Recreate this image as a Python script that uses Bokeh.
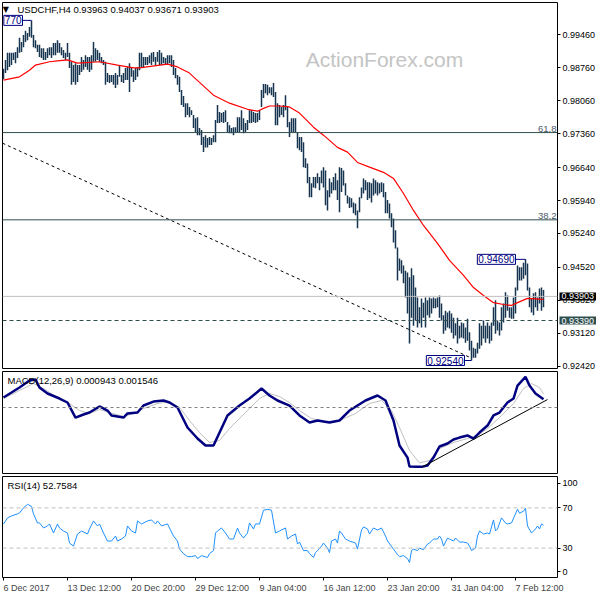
from bokeh.plotting import figure
from bokeh.layouts import column
from bokeh.models import (Range1d, FixedTicker, Span, Label, ColumnDataSource,
                          PrintfTickFormatter)
from bokeh.core.properties import value
from bokeh.embed import file_html
from bokeh.resources import INLINE

# ---------------- data ----------------
high = [0.9874,0.9893,0.9908,0.9908,0.9908,0.9908,0.9910,0.9920,0.9940,0.9931,
        0.9946,0.9955,0.9950,0.9963,0.9977,0.9946,0.9935,0.9925,0.9925,0.9918,
        0.9918,0.9910,0.9918,0.9920,0.9920,0.9929,0.9929,0.9935,0.9929,0.9920,
        0.9914,0.9908,0.9929,0.9908,0.9889,0.9882,0.9886,0.9882,0.9882,0.9899,
        0.9893,0.9903,0.9899,0.9899,0.9903,0.9931,0.9918,0.9914,0.9908,0.9899,
        0.9893,0.9889,0.9865,0.9861,0.9861,0.9861,0.9865,0.9861,0.9882,0.9861,
        0.9865,0.9876,0.9878,0.9886,0.9876,0.9871,0.9876,0.9878,0.9908,0.9908,
        0.9899,0.9899,0.9899,0.9903,0.9908,0.9910,0.9899,0.9910,0.9914,0.9908,
        0.9899,0.9897,0.9903,0.9903,0.9903,0.9893,0.9876,0.9861,0.9857,0.9829,
        0.9816,0.9801,0.9801,0.9793,0.9786,0.9776,0.9769,0.9771,0.9748,0.9744,
        0.9729,0.9733,0.9727,0.9729,0.9727,0.9733,0.9765,0.9797,0.9782,0.9780,
        0.9782,0.9786,0.9761,0.9754,0.9748,0.9750,0.9750,0.9771,0.9771,0.9786,
        0.9769,0.9759,0.9765,0.9786,0.9786,0.9782,0.9780,0.9780,0.9786,0.9829,
        0.9842,0.9842,0.9840,0.9835,0.9835,0.9844,0.9825,0.9801,0.9797,0.9793,
        0.9797,0.9818,0.9793,0.9761,0.9769,0.9769,0.9769,0.9739,0.9729,0.9729,
        0.9718,0.9684,0.9673,0.9644,0.9631,0.9644,0.9644,0.9652,0.9644,0.9658,
        0.9665,0.9658,0.9616,0.9641,0.9633,0.9644,0.9652,0.9637,0.9665,0.9663,
        0.9658,0.9631,0.9605,0.9601,0.9599,0.9590,0.9588,0.9573,0.9601,0.9622,
        0.9641,0.9637,0.9633,0.9633,0.9631,0.9641,0.9637,0.9633,0.9631,0.9633,
        0.9631,0.9612,0.9595,0.9588,0.9567,0.9556,0.9531,0.9494,0.9471,0.9467,
        0.9456,0.9445,0.9441,0.9431,0.9450,0.9435,0.9409,0.9388,0.9367,0.9386,
        0.9377,0.9388,0.9382,0.9388,0.9386,0.9388,0.9386,0.9388,0.9392,0.9375,
        0.9350,0.9360,0.9356,0.9360,0.9354,0.9345,0.9333,0.9345,0.9328,0.9335,
        0.9333,0.9324,0.9343,0.9314,0.9296,0.9281,0.9279,0.9292,0.9333,0.9328,
        0.9339,0.9328,0.9335,0.9328,0.9335,0.9367,0.9382,0.9339,0.9335,0.9367,
        0.9375,0.9399,0.9392,0.9367,0.9367,0.9388,0.9409,0.9456,0.9452,0.9452,
        0.9462,0.9469,0.9460,0.9409,0.9386,0.9397,0.9399,0.9388,0.9407,0.9409,
        0.94037]
low = [0.9852,0.9865,0.9871,0.9878,0.9882,0.9893,0.9886,0.9897,0.9908,0.9910,
       0.9920,0.9931,0.9935,0.9942,0.9940,0.9920,0.9918,0.9910,0.9899,0.9897,
       0.9893,0.9893,0.9897,0.9903,0.9897,0.9903,0.9903,0.9908,0.9908,0.9903,
       0.9897,0.9893,0.9899,0.9876,0.9840,0.9846,0.9840,0.9846,0.9861,0.9867,
       0.9872,0.9878,0.9872,0.9867,0.9872,0.9889,0.9889,0.9893,0.9889,0.9886,
       0.9882,0.9840,0.9846,0.9844,0.9846,0.9840,0.9833,0.9840,0.9857,0.9846,
       0.9844,0.9850,0.9850,0.9825,0.9857,0.9846,0.9850,0.9857,0.9871,0.9876,
       0.9878,0.9882,0.9882,0.9886,0.9882,0.9889,0.9882,0.9889,0.9882,0.9882,
       0.9886,0.9882,0.9882,0.9886,0.9878,0.9861,0.9854,0.9840,0.9825,0.9797,
       0.9793,0.9771,0.9776,0.9771,0.9776,0.9748,0.9739,0.9733,0.9733,0.9712,
       0.9697,0.9707,0.9707,0.9712,0.9712,0.9718,0.9718,0.9759,0.9759,0.9761,
       0.9759,0.9761,0.9739,0.9737,0.9737,0.9733,0.9739,0.9739,0.9739,0.9744,
       0.9737,0.9739,0.9744,0.9759,0.9759,0.9761,0.9759,0.9761,0.9765,0.9793,
       0.9812,0.9822,0.9818,0.9822,0.9818,0.9814,0.9754,0.9754,0.9771,0.9776,
       0.9771,0.9786,0.9750,0.9729,0.9739,0.9739,0.9739,0.9705,0.9701,0.9697,
       0.9665,0.9663,0.9631,0.9601,0.9601,0.9622,0.9620,0.9631,0.9616,0.9631,
       0.9622,0.9584,0.9573,0.9601,0.9609,0.9616,0.9616,0.9595,0.9569,0.9612,
       0.9626,0.9605,0.9588,0.9578,0.9580,0.9567,0.9563,0.9535,0.9569,0.9599,
       0.9609,0.9616,0.9595,0.9599,0.9590,0.9605,0.9609,0.9605,0.9609,0.9612,
       0.9601,0.9567,0.9567,0.9556,0.9537,0.9505,0.9492,0.9424,0.9445,0.9439,
       0.9418,0.9388,0.9354,0.9290,0.9345,0.9328,0.9339,0.9324,0.9333,0.9324,
       0.9345,0.9324,0.9350,0.9345,0.9354,0.9365,0.9365,0.9367,0.9345,0.9339,
       0.9311,0.9318,0.9324,0.9322,0.9313,0.9301,0.9307,0.9290,0.9301,0.9303,
       0.9301,0.9292,0.9296,0.9275,0.9254,0.9260,0.9260,0.9269,0.9279,0.9286,
       0.9301,0.9292,0.9301,0.9290,0.9296,0.9328,0.9311,0.9318,0.9307,0.9318,
       0.9335,0.9345,0.9360,0.9345,0.9343,0.9343,0.9354,0.9403,0.9424,0.9424,
       0.9428,0.9435,0.9403,0.9367,0.9356,0.9350,0.9367,0.9360,0.9375,0.9360,
       0.93671]
bar_idx = list(range(len(high)))
ohlc_last = [0.93963, 0.94037, 0.93671, 0.93903]

ma_idx = [0,8,13,16,23,27,32,37,48,57,65,68,82,87,93,95,105,113,122,127,
          130,133,138,143,148,155,160,167,172,177,183,190,195,200,205,210,217,223,230,235,
          240,245,250,254,257,262,270]
ma_val = [0.9850,0.9857,0.9871,0.9882,0.9889,0.9891,0.9893,0.9886,0.9889,0.9882,
          0.9876,0.9876,0.9884,0.9878,0.9865,0.9857,0.9818,0.9801,0.9788,0.9784,
          0.9790,0.9795,0.9795,0.9793,0.9780,0.9750,0.9733,0.9707,0.9697,0.9675,
          0.9665,0.9654,0.9641,0.9609,0.9573,0.9541,0.9503,0.9467,0.9435,0.9409,
          0.9392,0.9377,0.9373,0.9371,0.9377,0.9386,0.9384]

macd_idx = [0,4,8,13,16,18,22,28,32,36,40,43,48,52,54,60,62,67,70,75,
            80,83,87,92,97,101,105,112,118,123,129,133,137,143,148,153,157,163,168,173,
            181,187,191,195,198,202,203,207,209,212,215,218,222,225,228,232,235,238,242,245,
            248,252,255,257,261,263,266,270]
macd_val = [0.00116,0.00173,0.00231,0.00312,0.00323,0.00231,0.00162,0.00104,0.00058,-0.00116,
            -0.00081,-0.00058,0.00012,-0.00035,-0.00092,-0.00116,-0.00069,-0.00058,0.00023,0.00069,
            0.00081,0.00058,0.0,-0.00231,-0.00358,-0.00439,-0.00439,-0.00092,0.00023,0.00104,
            0.00219,0.00139,0.00081,0.00023,-0.00092,-0.00173,-0.00150,-0.00173,-0.00150,-0.00035,
            0.00081,0.00139,0.00081,-0.00150,-0.00439,-0.00578,-0.00681,-0.00685,-0.006853,-0.00670,
            -0.00578,-0.00450,-0.00416,-0.00370,-0.00347,-0.00323,-0.00358,-0.00289,-0.00208,-0.00092,
            -0.00058,0.00058,0.00104,0.00254,0.003538,0.00254,0.00162,0.000943]
signal_idx = [0,8,15,20,27,33,38,43,48,53,60,65,70,77,83,88,93,98,103,108,
              113,121,128,133,138,143,148,154,161,168,176,183,189,194,198,203,208,213,218,225,
              232,237,242,248,255,260,264,268,270]
signal_val = [0.00104,0.00196,0.00277,0.00219,0.00116,0.00046,-0.00035,-0.00069,-0.00023,-0.00058,
              -0.00104,-0.00069,-0.00012,0.00046,0.00069,0.0,-0.00150,-0.00289,-0.00404,-0.00381,
              -0.00243,-0.00058,0.00104,0.00162,0.00127,0.00058,-0.00035,-0.00127,-0.00162,-0.00150,
              -0.00069,0.00046,0.00081,-0.00035,-0.00231,-0.00497,-0.00640,-0.00612,-0.00474,-0.00404,
              -0.00358,-0.00323,-0.00243,-0.00116,0.00046,0.00219,0.00277,0.00231,0.001546]

rsi_idx = [0,2,4,7,8,10,12,14,15,17,18,20,22,23,25,27,28,30,32,33,
           35,37,39,42,43,45,47,48,50,52,54,56,57,59,61,62,64,66,67,69,
           72,74,76,77,79,82,83,85,87,88,90,92,94,96,97,99,102,103,105,106,
           107,109,111,113,115,117,118,120,122,123,125,126,128,130,132,134,136,138,141,142,
           144,146,147,148,150,152,153,155,156,157,159,160,162,163,164,166,167,168,169,171,
           173,176,177,179,180,182,183,185,187,189,191,192,195,197,198,200,202,203,204,205,
           207,208,210,212,213,215,217,218,219,220,222,223,225,226,228,230,232,233,234,236,
           237,238,240,242,243,245,246,247,249,251,252,254,257,258,260,261,262,264,266,267,
           268,269,270]
rsi_val = [54,60,62,64,65,70,73.5,71.5,64,55,55,50,52,54,45,54,50,47,45,35,
           32,44,47,44,49,57,52,54,45,37,37,42,37,39,42,52,47,45,57,54,
           57,58,54,57,52,54,50,42,37,29,24.5,21.5,21.5,22.5,19.6,22.5,20.6,24.5,27.5,45,
           47,50,45,39,39,50,45,40,45,55,49,54,54,67.6,68.6,67.6,45,47,50,39,
           42,44,34,36,27.5,27.5,24.5,20.6,25.5,27.5,32,35,30,25.5,37,39,35,47,45,39,
           37,35,29,48,51,49,44,50,48,50,42,37,29,23.5,21.5,22.5,19.6,15.7,27.5,29,
           27.5,30,28.4,34,35,39,39,42,39,32,40,39,37,40,36,36,35,32,27.5,30,
           42,47,44,45,44,58,47,49,60,55,54,55,68.6,64.7,66.7,69.6,52,45,49,52,
           49,54,52.7584]

price_ticks = [0.9946, 0.9876, 0.9806, 0.9736, 0.9664, 0.9594, 0.9524, 0.9452, 0.9382, 0.9312, 0.9242]
fib_levels = [0.97385, 0.95530]
fib_names = ["61.8", "38.2"]
last_price = 0.93903
support_price = 0.93390
trend_idx = [-0.5, 233.5]
trend_val = [0.9716, 0.9260]
macd_trend_idx = [209.5, 272]
macd_trend_val = [-0.00685, 0.00092]
macd_ticks = [0.003538, 0.0, -0.006853]
macd_tick_labels = ["0.003538", "0.00", "-0.006853"]
rsi_levels = [70, 30]
rsi_tick_pos = [94.3, 70, 30, 6.6]
rsi_tick_labels = ["100", "70", "30", "0"]
time_tick_idx = [0, 32, 64, 96, 128, 160, 192, 224, 256]
time_tick_labels = ["6 Dec 2017", "13 Dec 12:00", "20 Dec 20:00", "29 Dec 12:00", "9 Jan 04:00",
                    "16 Jan 12:00", "23 Jan 20:00", "31 Jan 04:00", "7 Feb 12:00"]

# ---------------- style ----------------
FONT = "Liberation Sans"
BAR = "#173450"
SLATE = "#2F4F4F"
NAVY = "#000080"
X_END = 277

x_range = Range1d(-0.5, X_END)


def style_yaxis(ya, size="9px"):
    ya.axis_line_color = None
    ya.major_tick_in = 0
    ya.major_tick_out = 3
    ya.major_tick_line_color = "black"
    ya.minor_tick_line_color = None
    ya.major_label_text_font = FONT
    ya.major_label_text_font_size = size
    ya.major_label_text_color = "black"
    ya.major_label_standoff = 2


def panel(h, top, bottom, y_range, x_axis=False, label_size="9px"):
    p = figure(width=600, height=h, x_range=x_range, y_range=y_range,
               output_backend="svg", toolbar_location=None,
               x_axis_location="below" if x_axis else None, y_axis_location="right",
               min_border_left=2, min_border_right=43, min_border_top=top,
               min_border_bottom=bottom)
    p.outline_line_color = "black"
    p.outline_line_width = 1
    p.outline_line_alpha = 1.0
    p.grid.visible = False
    p.background_fill_color = "white"
    p.border_fill_color = "white"
    style_yaxis(p.yaxis[0], label_size)
    return p


def text_label(p, x, y, txt, size="9.5px", color="black", align="left", baseline="middle",
               font=FONT, **kw):
    p.add_layout(Label(x=x, y=y, text=txt, text_font=font, text_font_size=size,
                       text_color=color, text_align=align, text_baseline=baseline, **kw))


def price_box(p, price, bg):
    """Price tag drawn on the right axis (glyph at overlay level is not clipped to the frame)."""
    src = ColumnDataSource(dict(x=[X_END], y=[price], t=[f"{price:.5f}"]))
    common = dict(x="x", y="y", text="t", source=src, x_offset=2, text_color="white",
                  text_font=value(FONT), text_font_size="9px", text_align="left",
                  text_baseline="middle", level="overlay")
    try:
        p.text(background_fill_color=bg, padding=(2, 1), **common)
    except (AttributeError, ValueError):
        p.text(background_fill_color=bg, padding=1, **common)


# ---------------- main price panel ----------------
p1 = panel(370, 2, 2, Range1d(0.9237, 1.0015))
p1.yaxis[0].ticker = FixedTicker(ticks=price_ticks)
p1.yaxis[0].formatter = PrintfTickFormatter(format="%.5f")

for lvl in fib_levels:
    p1.add_layout(Span(location=lvl, dimension="width", line_color=SLATE, line_width=1))
p1.add_layout(Span(location=last_price, dimension="width", line_color="#C0C0C0", line_width=1))
p1.add_layout(Span(location=support_price, dimension="width", line_color=SLATE,
                   line_width=1, line_dash="4 3"))

src = ColumnDataSource(dict(i=bar_idx, high=high, low=low))
p1.segment(x0="i", y0="low", x1="i", y1="high", source=src, line_color=BAR, line_width=1.5)
p1.line(ma_idx, ma_val, line_color="#FF0000", line_width=1.2)
p1.line(trend_idx, trend_val, line_color="black", line_width=1, line_dash="3 3")

for lvl, name in zip(fib_levels, fib_names):
    text_label(p1, X_END - 0.5, lvl, name, color="#4A5A6A", align="right", baseline="bottom",
               y_offset=1)

text_label(p1, 190.5, 0.9893, "ActionForex.com", size="21px", color="#C4C4C4", align="center")
text_label(p1, 1.2, 0.99995, "\u25BC", size="8px", align="center", font="DejaVu Sans")
text_label(p1, 7, 0.99995, "USDCHF,H4  " + " ".join(f"{v:.5f}" for v in ohlc_last))

# callouts for extremes
i_top = max(range(len(high)), key=lambda k: high[k])
i_late = max(range(240, len(high)), key=lambda k: high[k])
i_bot = min(range(len(low)), key=lambda k: low[k])
callouts = [(i_top, high[i_top], 4.5, f"{high[i_top]:.5f}"[4:]),
            (i_late, high[i_late], 5, f"{high[i_late]:.5f}"),
            (i_bot, low[i_bot], 3.5, f"{low[i_bot]:.5f}")]
for bi, price, off, txt in callouts:
    p1.line([bi - off, bi], [price, price], line_color=NAVY, line_width=1)
    p1.add_layout(Label(x=bi - off, y=price, text=txt, text_font=FONT,
                        text_font_size="10px", text_color=NAVY, text_align="right",
                        text_baseline="middle", background_fill_color="white",
                        border_line_color=NAVY, border_line_width=1, padding=1))

price_box(p1, last_price, "black")
price_box(p1, support_price, SLATE)

# ---------------- MACD panel ----------------
p2 = panel(105, 1, 2, Range1d(-0.00762, 0.00416), label_size="8px")
p2.yaxis[0].ticker = FixedTicker(ticks=macd_ticks)
p2.yaxis[0].major_label_overrides = dict(zip(macd_ticks, macd_tick_labels))
p2.yaxis[0].fixed_location = X_END
p2.yaxis[0].major_label_standoff = 1
p2.add_layout(Span(location=0, dimension="width", line_color="#808080", line_width=1,
                   line_dash="3 3"))
p2.line(signal_idx, signal_val, line_color="#C0C0C0", line_width=1)
p2.line(macd_idx, macd_val, line_color=NAVY, line_width=2.5)
p2.line(macd_trend_idx, macd_trend_val, line_color="black", line_width=1)
text_label(p2, 2, 0.00312, f"MACD(12,26,9) {macd_val[-1]:.6f} {signal_val[-1]:.6f}")

# ---------------- RSI panel ----------------
p3 = panel(125, 1, 22, Range1d(0.74, 101.2), x_axis=True)
p3.yaxis[0].ticker = FixedTicker(ticks=rsi_tick_pos)
p3.yaxis[0].major_label_overrides = dict(zip(rsi_tick_pos, rsi_tick_labels))
for lvl in rsi_levels:
    p3.add_layout(Span(location=lvl, dimension="width", line_color="#C0C0C0", line_width=1,
                       line_dash="4 3"))
p3.line(rsi_idx, rsi_val, line_color="#1E90FF", line_width=1)
text_label(p3, 2, 92.4, f"RSI(14) {rsi_val[-1]:.4f}")

xa = p3.xaxis[0]
xa.ticker = FixedTicker(ticks=time_tick_idx)
xa.major_label_overrides = dict(zip(time_tick_idx, time_tick_labels))
xa.axis_line_color = None
xa.major_tick_in = 0
xa.major_tick_out = 3
xa.major_tick_line_color = "black"
xa.minor_tick_line_color = None
xa.major_label_text_font = FONT
xa.major_label_text_font_size = "9px"
xa.major_label_orientation = -0.0001
xa.major_label_standoff = 7

layout = column(p1, p2, p3)
open("out.html", "w").write(file_html(layout, INLINE))
